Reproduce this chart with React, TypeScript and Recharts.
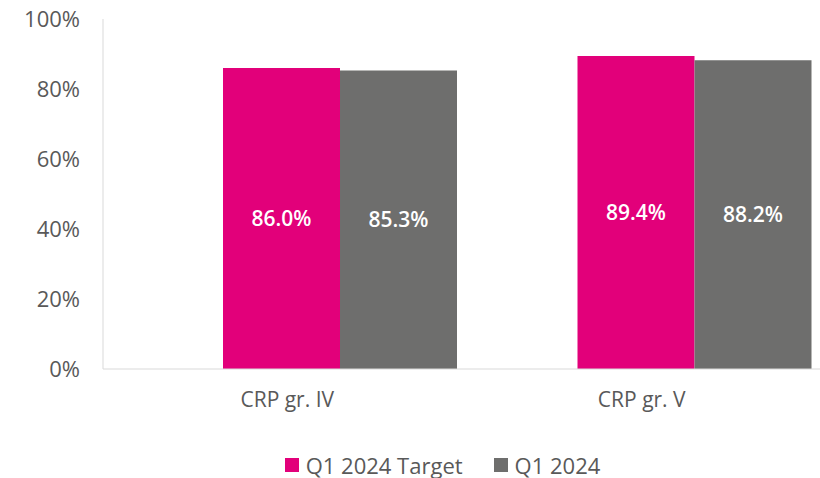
import React from 'react';
import { Bar, BarChart, LabelList, Legend, XAxis, YAxis } from 'recharts';

const categories = ['CRP gr. IV', 'CRP gr. V'];
const targetValues = [86.0, 89.4];
const actualValues = [85.3, 88.2];
const yTicks = [0, 20, 40, 60, 80, 100];

const data = categories.map((name, i) => ({ name, target: targetValues[i], actual: actualValues[i] }));

const FONT = '"Open Sans", sans-serif';
const PINK = '#E2007A';
const GREY = '#6E6E6D';

const LegendBox = () => (
  <div style={{ height: 60, paddingTop: 33, paddingLeft: 13, boxSizing: 'border-box', display: 'flex', justifyContent: 'center', fontFamily: FONT, fontSize: 22, color: '#595959', lineHeight: '24px' }}>
    {[
      { c: PINK, t: 'Q1 2024 Target' },
      { c: GREY, t: 'Q1 2024' },
    ].map((it, i) => (
      <span key={i} style={{ display: 'flex', alignItems: 'center', marginLeft: i ? 31 : 0 }}>
        <span style={{ width: 14, height: 14, background: it.c, marginRight: 7, display: 'inline-block' }} />
        {it.t}
      </span>
    ))}
  </div>
);

// category labels sit a little left of the bar pair, as in the source
const CategoryTick = (props: any) => {
  const { x, y, payload } = props;
  return (
    <text x={x - 53} y={y} dy={22} textAnchor="middle" fill="#595959" fontSize={21} fontFamily={FONT}>
      {payload.value}
    </text>
  );
};

export default function App() {
  return (
    <div style={{ position: 'absolute', left: 0, top: 0, width: 820, height: 478, background: '#fff', overflow: 'hidden' }}>
      <BarChart width={820} height={478} data={data} margin={{ top: 19, right: -52, bottom: 0, left: 0 }} barGap={0} barCategoryGap={60}>
        <XAxis dataKey="name" axisLine={{ stroke: '#D9D9D9' }} tickLine={false} tickSize={0} tickMargin={16} height={49}
          padding={{ left: 60, right: 0 }} tick={<CategoryTick />} />
        <YAxis domain={[0, 100]} ticks={yTicks} width={103} axisLine={{ stroke: '#D9D9D9' }} tickLine={false} tickSize={0} tickMargin={23}
          tickFormatter={(v: number) => `${v}%`} tick={{ fill: '#595959', fontSize: 22, fontFamily: FONT }} />
        <Legend verticalAlign="bottom" content={<LegendBox />} />
        <Bar dataKey="target" fill={PINK} isAnimationActive={false}>
          <LabelList dataKey="target" position="center" formatter={(v: number) => `${v.toFixed(1)}%`}
            style={{ fill: '#fff', fontSize: 21, fontWeight: 600, fontFamily: FONT }} />
        </Bar>
        <Bar dataKey="actual" fill={GREY} isAnimationActive={false}>
          <LabelList dataKey="actual" position="center" formatter={(v: number) => `${v.toFixed(1)}%`}
            style={{ fill: '#fff', fontSize: 21, fontWeight: 600, fontFamily: FONT }} />
        </Bar>
      </BarChart>
    </div>
  );
}
